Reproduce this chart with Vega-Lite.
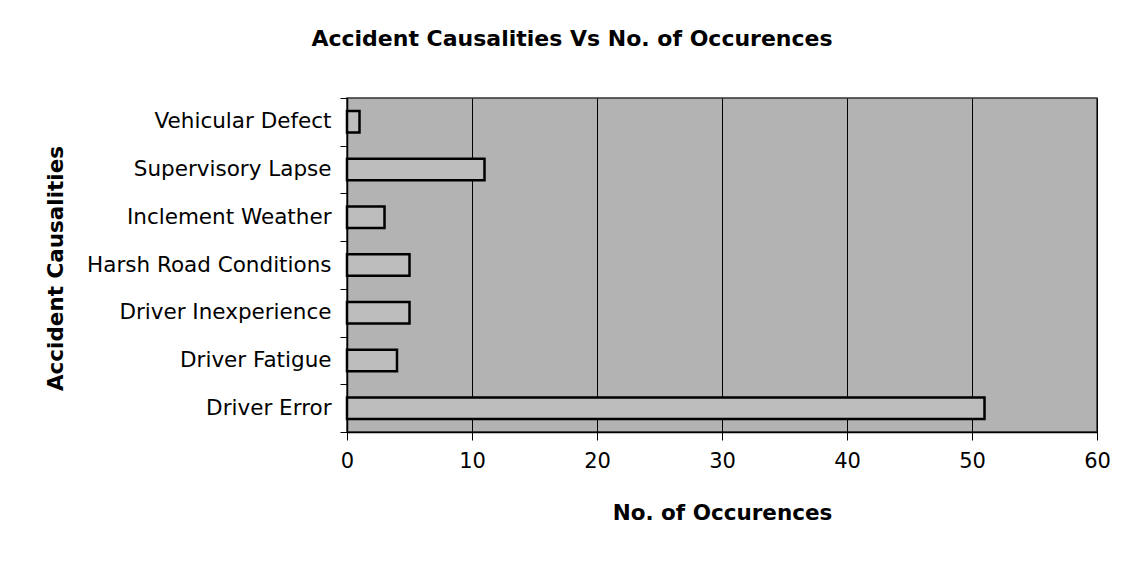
{
  "$schema": "https://vega.github.io/schema/vega-lite/v6.json",
  "autosize": "none",
  "width": 750,
  "height": 334,
  "padding": {"left": 347, "top": 98, "right": 31, "bottom": 129},
  "background": "white",
  "title": {
    "text": "Accident Causalities Vs No. of Occurences",
    "font": "DejaVu Sans",
    "fontSize": 22,
    "fontWeight": "bold",
    "color": "black",
    "anchor": "middle",
    "dx": -150,
    "offset": 36
  },
  "data": {
    "values": [
      {"cause": "Vehicular Defect", "count": 1},
      {"cause": "Supervisory Lapse", "count": 11},
      {"cause": "Inclement Weather", "count": 3},
      {"cause": "Harsh Road Conditions", "count": 5},
      {"cause": "Driver Inexperience", "count": 5},
      {"cause": "Driver Fatigue", "count": 4},
      {"cause": "Driver Error", "count": 51}
    ]
  },
  "mark": {"type": "bar", "fill": "#bdbdbd", "stroke": "black", "strokeWidth": 2.5, "height": {"band": 0.45}},
  "encoding": {
    "y": {
      "field": "cause",
      "type": "nominal",
      "sort": null,
      "scale": {"paddingInner": 0, "paddingOuter": 0},
      "axis": {
        "title": "Accident Causalities",
        "titleFont": "DejaVu Sans",
        "titleFontSize": 21.5,
        "titleFontWeight": "bold",
        "titleColor": "black",
        "titleX": -280,
        "titleY": 170,
        "titleAngle": -90,
        "titleAlign": "center",
        "titleBaseline": "bottom",
        "labelFont": "DejaVu Sans",
        "labelFontSize": 21.5,
        "labelColor": "black",
        "labelPadding": 9,
        "labelLimit": 400,
        "tickBand": "extent",
        "tickSize": 7,
        "tickColor": "black",
        "domainColor": "black",
        "domainWidth": 1.5,
        "grid": false
      }
    },
    "x": {
      "field": "count",
      "type": "quantitative",
      "scale": {"domain": [0, 60], "nice": false},
      "axis": {
        "title": "No. of Occurences",
        "titleFont": "DejaVu Sans",
        "titleFontSize": 21.5,
        "titleFontWeight": "bold",
        "titleColor": "black",
        "titlePadding": 31,
        "values": [0, 10, 20, 30, 40, 50, 60],
        "labelFont": "DejaVu Sans",
        "labelFontSize": 21,
        "labelColor": "black",
        "labelPadding": 10,
        "labelFlush": false,
        "tickSize": 8,
        "tickColor": "black",
        "domainColor": "black",
        "domainWidth": 1.5,
        "grid": true,
        "gridColor": "black",
        "gridOpacity": 1,
        "gridWidth": 1
      }
    }
  },
  "config": {
    "view": {"fill": "#b3b3b3", "stroke": "#333333", "strokeWidth": 1.5}
  }
}
